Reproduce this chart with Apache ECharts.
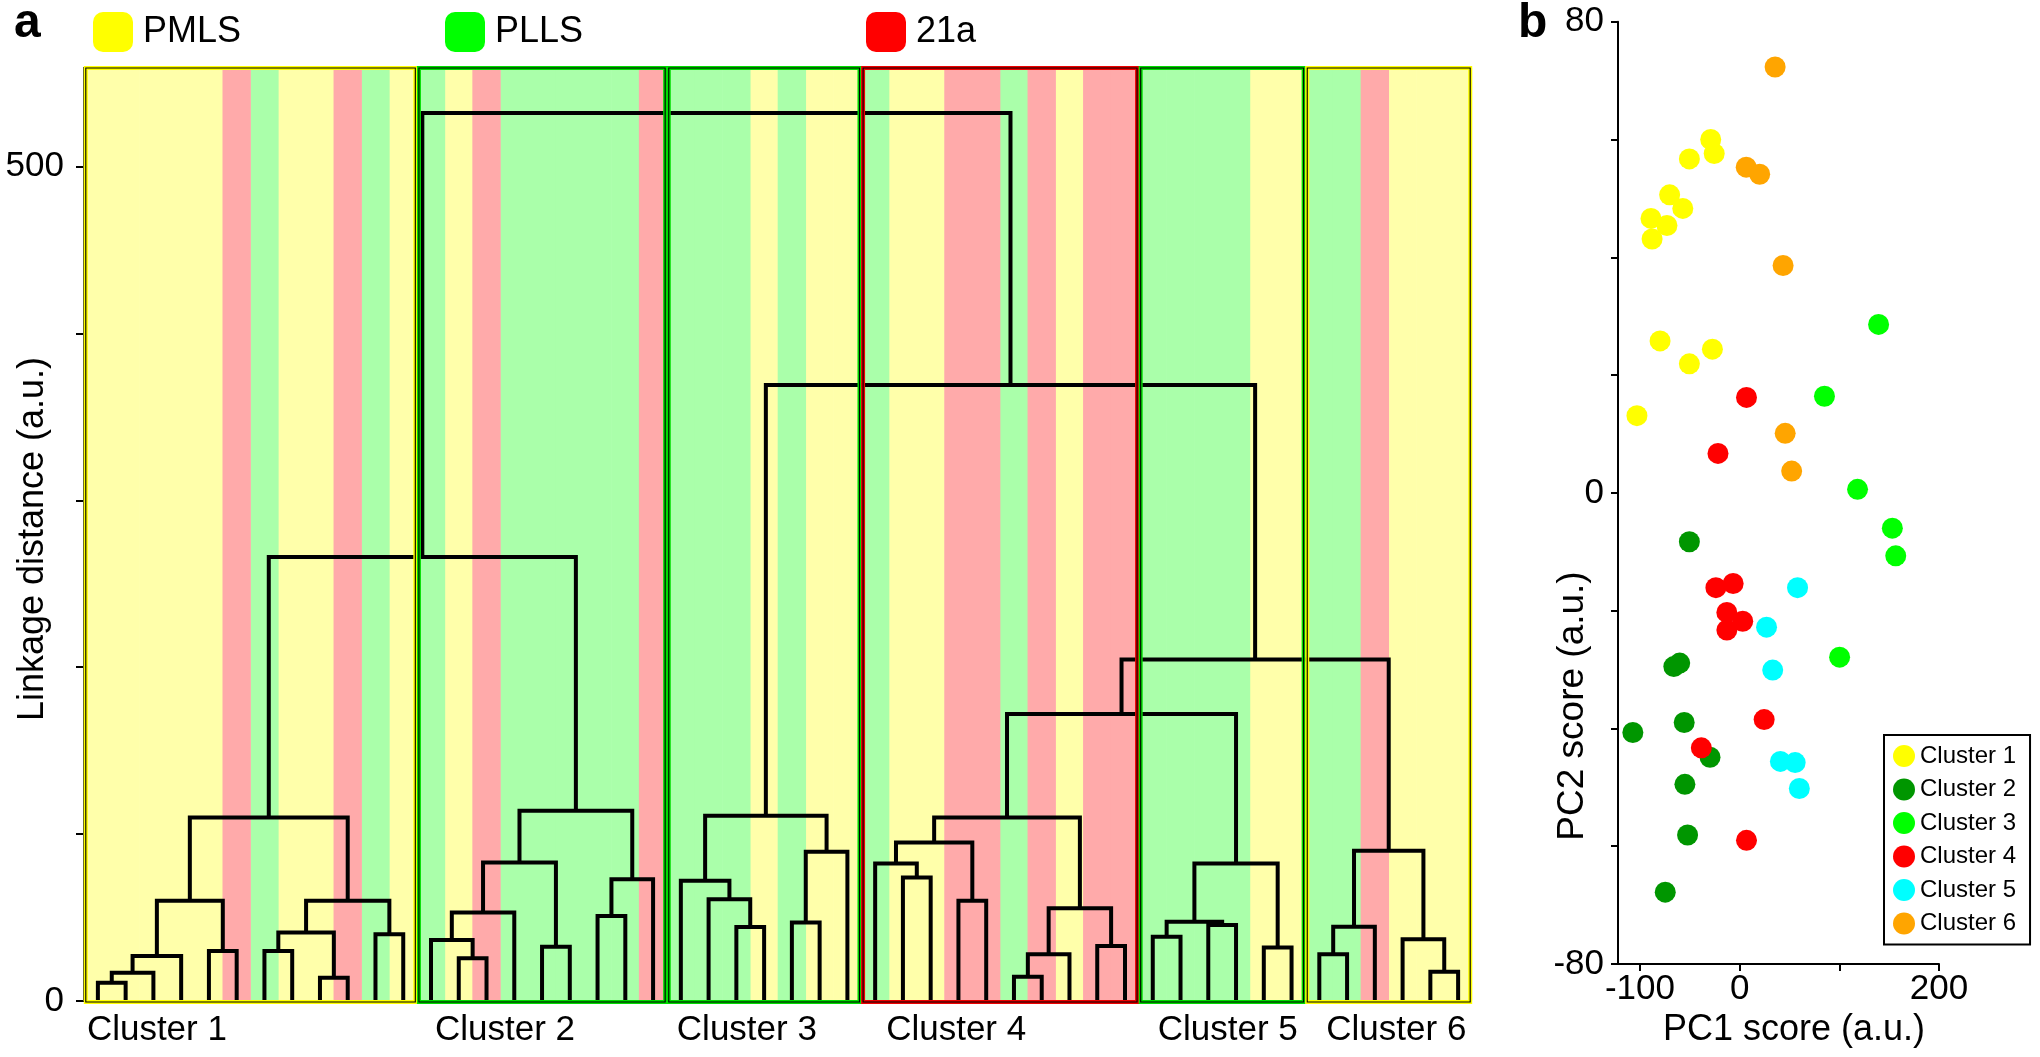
<!DOCTYPE html>
<html><head><meta charset="utf-8">
<script src="https://cdn.jsdelivr.net/npm/echarts@6/dist/echarts.min.js"></script>
<style>html,body{margin:0;padding:0;background:#fff}#c{width:2040px;height:1057px}</style>
</head><body><div id="c"></div>
<script>
// ---------------- Panel a data ----------------
const leafSource = [
  'PMLS','PMLS','PMLS','PMLS','PMLS','21a','PLLS','PMLS','PMLS','21a','PLLS','PMLS',
  'PLLS','PMLS','21a','PLLS','PLLS','PLLS','PLLS','PLLS','21a',
  'PLLS','PLLS','PLLS','PMLS','PLLS','PMLS','PMLS',
  'PLLS','PMLS','PMLS','21a','21a','PLLS','21a','PMLS','21a','21a',
  'PLLS','PLLS','PLLS','PLLS','PMLS','PMLS',
  'PLLS','PLLS','21a','PMLS','PMLS','PMLS'
];
const sourceNames = ['PMLS', 'PLLS', '21a'];
const clusterNames = ['Cluster 1','Cluster 2','Cluster 3','Cluster 4','Cluster 5','Cluster 6'];
const clusterFirstLeaf = [0, 12, 21, 28, 38, 44];
const clusterLeafCount = [12, 9, 7, 10, 6, 6];
// linkage rows: [child A, child B, linkage distance]; leaves 0..49, merge k -> node 50+k
const linkage = [
  [0,1,11],[50,2,17],[51,3,27],[4,5,30],[52,53,60],[6,7,30],[8,9,14],[55,56,41],[10,11,40],[57,58,60],[54,59,110],
  [13,14,25.6],[12,61,36.5],[62,15,53],[16,17,32.5],[63,64,83],[18,19,51],[66,20,73],[65,67,114],[60,68,266],
  [23,24,44.3],[22,70,61],[21,71,72],[25,26,47],[73,27,89.4],[72,74,111],
  [29,30,74],[28,76,82.4],[31,32,60],[77,78,95],[33,34,14.6],[80,35,28],[36,37,33],[81,82,55.5],[79,83,110],
  [38,39,38.5],[40,41,45.5],[85,86,47.5],[42,43,32],[87,88,82.4],
  [44,45,28],[90,46,44.5],[48,49,17.5],[47,92,37],[91,93,90],
  [84,89,172],[95,94,204.6],[75,96,369],[69,97,532]
];
const linkageTop = 559;
const linkageTicks = [0, 100, 200, 300, 400, 500];
const linkageLabels = [0, 500];

// ---------------- Panel b data ----------------
const cluster1 = [[-29,60],[-25.5,57.6],[-50.4,56.7],[-70.2,50.6],[-57,48.3],[-88.9,46.6],[-72.9,45.4],[-87.8,43.1],[-79.8,25.8],[-27.3,24.4],[-50.4,21.9],[-103,13.1]];
const cluster2 = [[-50.4,-8.3],[-60.1,-28.9],[-66,-29.5],[-55.6,-39],[-107.1,-40.7],[-29.7,-44.9],[-54.9,-49.5],[-52.2,-58.1],[-74.6,-67.8]];
const cluster3 = [[139.4,28.6],[85.1,16.4],[118.3,0.6],[153.2,-6],[156.6,-10.7],[100.3,-27.9]];
const cluster4 = [[6.9,16.2],[-21.7,6.7],[-23.8,-16.1],[-6.5,-15.4],[-12.8,-20.3],[3.1,-21.8],[-12.8,-23.3],[24.6,-38.5],[-38.4,-43.3],[6.9,-59]];
const cluster5 = [[58.1,-16.1],[27,-22.8],[33.2,-30.1],[40.9,-45.6],[55.7,-45.8],[59.9,-50.2]];
const cluster6 = [[35.6,72.3],[6.6,55.3],[20.1,54.1],[43.6,38.6],[45.7,10.1],[52.2,3.7]];
const pc1Ticks = [-100, 0, 100, 200];
const pc1Labels = [-100, 0, 200];
const pc2Ticks = [-80, -60, -40, -20, 0, 20, 40, 60, 80];
const pc2Labels = [-80, 0, 80];

// ---------------- styles / layout ----------------
const FONT = 'Liberation Sans, Arial, Helvetica, sans-serif';
const bandFill = {PMLS:'#ffffaa', PLLS:'#aaffaa', '21a':'#ffaaaa'};
const keyColor = {PMLS:'#ffff00', PLLS:'#00ff00', '21a':'#ff0000'};
const boxColor = ['#ffff00','#00dd00','#00dd00','#ee0000','#00dd00','#ffff00'];
const pointColor = ['#ffff00','#009600','#00ff00','#ff0000','#00ffff','#ffa500'];
const labelShiftPx = [-11, 4, -4, 11, 5, 7];
const scatterData = [cluster1, cluster2, cluster3, cluster4, cluster5, cluster6];

// tree geometry in data units (leaf index, linkage distance)
const nodeX = [], nodeH = [];
leafSource.forEach((s, i) => { nodeX.push(i + 0.5); nodeH.push(0); });
const links = linkage.map(([a, b, h]) => {
  const row = [nodeX[a], nodeH[a], nodeX[b], nodeH[b], h];
  nodeX.push((nodeX[a] + nodeX[b]) / 2); nodeH.push(h);
  return row;
});

const bandSeries = sourceNames.map(name => ({
  type: 'custom', name: name, xAxisIndex: 0, yAxisIndex: 0, z: 1, silent: true,
  itemStyle: {color: keyColor[name]},
  data: leafSource.map((s, i) => s === name ? [i] : null).filter(d => d !== null),
  renderItem: (p, api) => {
    const i = api.value(0);
    const a = api.coord([i, linkageTop]);
    const b = api.coord([i + 1, 0]);
    return {type: 'rect', shape: {x: a[0] - 0.3, y: a[1], width: b[0] - a[0] + 0.6, height: b[1] - a[1]},
      style: {fill: bandFill[name]}};
  }
}));

const dendroSeries = {
  type: 'custom', name: 'dendrogram', xAxisIndex: 0, yAxisIndex: 0, z: 3, silent: true,
  data: links,
  renderItem: (p, api) => {
    const xa = api.value(0), ha = api.value(1), xb = api.value(2), hb = api.value(3), h = api.value(4);
    return {type: 'polyline',
      shape: {points: [api.coord([xa, ha]), api.coord([xa, h]), api.coord([xb, h]), api.coord([xb, hb])]},
      style: {stroke: '#000', lineWidth: 4, fill: null, lineJoin: 'miter'}};
  }
};

const boxSeries = {
  type: 'custom', name: 'clusterBoxes', xAxisIndex: 0, yAxisIndex: 0, z: 4, silent: true,
  data: clusterNames.map((n, i) => [clusterFirstLeaf[i], clusterFirstLeaf[i] + clusterLeafCount[i], i]),
  renderItem: (p, api) => {
    const s = api.value(0), e = api.value(1), k = api.value(2);
    const a = api.coord([s, linkageTop]);
    const b = api.coord([e, 0]);
    const inset = 1.8;
    const shape = {x: a[0] + inset, y: a[1], width: b[0] - a[0] - 2 * inset, height: b[1] - a[1] + 1};
    const lab = api.coord([s + 0.5, 0]);
    return {type: 'group', children: [
      {type: 'rect', shape: shape, style: {fill: null, stroke: boxColor[k], lineWidth: 4}},
      {type: 'rect', shape: shape, style: {fill: null, stroke: '#000', lineWidth: 1.1}},
      {type: 'text', x: lab[0] + labelShiftPx[k], y: lab[1] + 29,
        style: {text: clusterNames[k], fill: '#000', font: '35px ' + FONT, textAlign: 'left', textVerticalAlign: 'middle'}}
    ]};
  }
};

const scatterSeries = clusterNames.map((n, i) => ({
  type: 'scatter', name: n, xAxisIndex: 1, yAxisIndex: 1, z: 5 + i,
  symbol: 'circle', symbolSize: 21,
  itemStyle: {color: pointColor[i], opacity: 1},
  data: scatterData[i]
}));

const sourceLegendLeft = [93, 445, 866];

const option = {
  animation: false,
  backgroundColor: '#fff',
  textStyle: {fontFamily: FONT, color: '#000'},
  title: [
    {text: 'a', left: 14, top: 0, padding: 0, textStyle: {fontSize: 48, fontWeight: 'bold', color: '#000', fontFamily: FONT}},
    {text: 'b', left: 1518, top: 0, padding: 0, textStyle: {fontSize: 48, fontWeight: 'bold', color: '#000', fontFamily: FONT}}
  ],
  graphic: [
    {type: 'text', x: 33, y: 539, rotation: Math.PI / 2, silent: true,
      style: {text: 'Linkage distance (a.u.)', font: '36px ' + FONT, fill: '#000', textAlign: 'center', textVerticalAlign: 'middle'}},
    {type: 'text', x: 1573, y: 706, rotation: Math.PI / 2, silent: true,
      style: {text: 'PC2 score (a.u.)', font: '37px ' + FONT, fill: '#000', textAlign: 'center', textVerticalAlign: 'middle'}}
  ],
  legend: sourceNames.map((n, i) => ({
    left: sourceLegendLeft[i], top: 12, padding: 0, itemWidth: 40, itemHeight: 40, icon: 'roundRect',
    selectedMode: false, textStyle: {fontSize: 36, color: '#000', padding: [0, 0, 0, 5]},
    data: [{name: n, itemStyle: {color: keyColor[n]}}]
  })).concat([{
    orient: 'vertical', left: 1884, top: 735, padding: [9, 14, 9, 9], itemGap: 9.5,
    itemWidth: 22, itemHeight: 22, icon: 'circle', selectedMode: false,
    borderColor: '#000', borderWidth: 2, backgroundColor: '#fff',
    textStyle: {fontSize: 24, color: '#000'},
    data: clusterNames
  }]),
  grid: [
    {left: 84, top: 68, width: 1388, height: 933, containLabel: false, outerBoundsMode: 'none'},
    {left: 1618, top: 21.7, width: 321, height: 942.3, containLabel: false, outerBoundsMode: 'none'}
  ],
  xAxis: [
    {gridIndex: 0, type: 'value', min: 0, max: leafSource.length, show: false},
    {gridIndex: 1, type: 'value', min: -122, max: 200,
      axisLine: {show: true, onZero: false, lineStyle: {color: '#000', width: 2}},
      axisTick: {show: true, length: 7, lineStyle: {color: '#000', width: 2}, customValues: pc1Ticks},
      axisLabel: {customValues: pc1Labels, fontSize: 35, color: '#000', margin: 8},
      splitLine: {show: false},
      name: 'PC1 score (a.u.)', nameLocation: 'middle', nameGap: 48,
      nameTextStyle: {fontSize: 36, color: '#000', padding: [0, 0, 0, 31]}}
  ],
  yAxis: [
    {gridIndex: 0, type: 'value', min: 0, max: linkageTop, offset: 4,
      axisLine: {show: true, lineStyle: {color: '#000', width: 2}},
      axisTick: {show: true, length: 8, lineStyle: {color: '#000', width: 2}, customValues: linkageTicks},
      axisLabel: {customValues: linkageLabels, fontSize: 35, color: '#000', margin: 16},
      splitLine: {show: false}},
    {gridIndex: 1, type: 'value', min: -80, max: 80, interval: 20,
      axisLine: {show: true, onZero: false, lineStyle: {color: '#000', width: 2}},
      axisTick: {show: true, length: 7, lineStyle: {color: '#000', width: 2}, customValues: pc2Ticks},
      axisLabel: {customValues: pc2Labels, fontSize: 35, color: '#000', margin: 14},
      splitLine: {show: false}}
  ],
  series: bandSeries.concat([dendroSeries, boxSeries]).concat(scatterSeries)
};

const chart = echarts.init(document.getElementById('c'), null, {renderer: 'canvas'});
chart.setOption(option);
</script>
</body></html>
